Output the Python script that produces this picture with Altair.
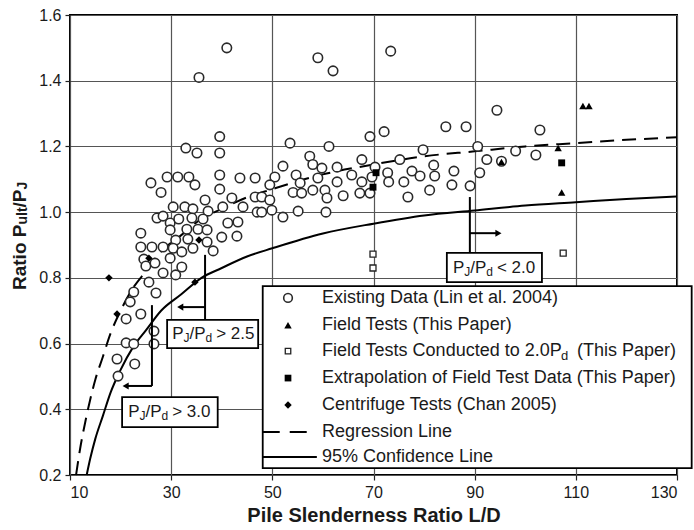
import altair as alt
import pandas as pd

FONT = "Liberation Sans"
TXT = "#1a1a1a"

# ---------------- data ----------------
existing_ld = [41.0, 35.5, 59.0, 62.0, 73.4, 94.4, 84.3, 88.3, 102.9, 69.3, 72.1, 39.6, 53.5, 32.9,
               35.1, 39.6, 61.2, 90.6, 79.8, 98.1, 102.1, 57.4, 58.0, 59.8, 62.8, 67.7, 75.2, 92.4,
               52.1, 70.3, 81.9, 72.8, 77.6, 85.9, 91.0, 82.1, 79.2, 65.7, 69.7, 59.0, 54.7, 50.5,
               46.6, 43.6, 39.6, 33.5, 31.3, 29.2, 26.0, 28.0, 34.7, 49.5, 55.5, 62.8, 67.7, 73.0,
               76.0, 85.5, 89.1, 39.6, 58.0, 60.4, 54.1, 55.8, 64.0, 67.3, 69.3, 81.1, 76.8, 60.8,
               42.0, 46.6, 47.9, 49.5, 36.7, 30.4, 32.7, 34.3, 37.3, 40.2, 44.2, 47.0, 47.9, 49.9,
               55.1, 60.6, 52.1, 27.2, 28.4, 29.8, 31.5, 34.1, 36.3, 41.2, 43.2, 29.8, 33.1, 35.3,
               37.1, 40.0, 43.0, 24.0, 24.0, 26.2, 28.4, 30.9, 33.3, 34.3, 37.1, 38.3, 30.4, 32.1,
               24.6, 29.8, 25.0, 26.8, 28.4, 30.9, 32.1, 25.6, 27.0, 22.6, 21.9, 21.1, 24.0, 21.1,
               22.6, 26.6, 26.6, 19.3, 22.8, 19.5, 95.3]
existing_ratio = [1.50, 1.41, 1.47, 1.43, 1.49, 1.31, 1.26, 1.26, 1.25, 1.23, 1.245, 1.23, 1.21, 1.195,
                  1.18, 1.18, 1.20, 1.20, 1.19, 1.186, 1.174, 1.17, 1.145, 1.134, 1.137, 1.16, 1.16, 1.16,
                  1.14, 1.137, 1.143, 1.12, 1.125, 1.125, 1.12, 1.11, 1.11, 1.113, 1.107, 1.104, 1.113, 1.107,
                  1.104, 1.104, 1.113, 1.107, 1.107, 1.107, 1.089, 1.06, 1.083, 1.083, 1.089, 1.092, 1.092, 1.092,
                  1.092, 1.083, 1.08, 1.07, 1.067, 1.067, 1.06, 1.058, 1.05, 1.058, 1.058, 1.067, 1.046, 1.043,
                  1.043, 1.046, 1.046, 1.037, 1.037, 1.016, 1.016, 1.01, 1.003, 1.016, 1.016, 1.0, 1.0, 1.006,
                  1.003, 1.0, 0.985, 0.982, 0.988, 0.967, 0.979, 0.982, 0.979, 0.967, 0.97, 0.946, 0.948, 0.948,
                  0.946, 0.924, 0.927, 0.936, 0.894, 0.894, 0.894, 0.915, 0.918, 0.89, 0.909, 0.882, 0.89, 0.879,
                  0.857, 0.86, 0.836, 0.845, 0.815, 0.809, 0.833, 0.787, 0.754, 0.757, 0.727, 0.675, 0.69, 0.602,
                  0.599, 0.638, 0.599, 0.553, 0.538, 0.501, 1.155]

field_ld = [95.3, 106.5, 107.2, 111.4, 112.6]
field_ratio = [1.153, 1.195, 1.06, 1.323, 1.323]

field2_ld = [69.9, 69.9, 107.5]
field2_ratio = [0.872, 0.830, 0.875]

extrap_ld = [70.5, 69.9, 107.2]
extrap_ratio = [1.12, 1.076, 1.15]

centr_ld = [17.7, 19.3, 25.6, 34.7, 35.5]
centr_ratio = [0.80, 0.69, 0.86, 0.787, 0.915]

reg_ld = [11.2, 12, 13, 14, 15, 16.5, 18, 20, 22.5, 25, 28, 32, 36, 40, 45, 50, 60, 70, 80, 90,
          100, 110, 120, 130]
reg_ratio = [0.20, 0.28, 0.36, 0.43, 0.49, 0.56, 0.63, 0.70, 0.77, 0.82, 0.88, 0.93, 0.98, 1.01,
             1.045, 1.07, 1.115, 1.145, 1.17, 1.185, 1.20, 1.21, 1.22, 1.228]

conf_ld = [13.3, 14, 15, 16.5, 18, 20, 22.5, 25, 28, 32, 36, 40, 45, 50, 60, 70, 80, 90, 100, 110,
           120, 130]
conf_ratio = [0.20, 0.25, 0.31, 0.38, 0.45, 0.52, 0.59, 0.64, 0.70, 0.75, 0.80, 0.83, 0.865, 0.89,
              0.935, 0.965, 0.99, 1.005, 1.02, 1.03, 1.04, 1.048]

x_ticks = [10, 30, 50, 70, 90, 110, 130]
y_ticks = [0.2, 0.4, 0.6, 0.8, 1.0, 1.2, 1.4, 1.6]

# annotation boxes (P_J/P_d limits)
box_x1 = [84.5, 29.2, 20.3]
box_x2 = [103.3, 47.2, 39.2]
box_y1 = [0.876, 0.672, 0.437]
box_y2 = [0.787, 0.586, 0.346]
box_tx = [85.7, 30.2, 21.5]
box_ty = [0.831, 0.629, 0.392]
box_tail = ["< 2.0", "> 2.5", "> 3.0"]

seg_x1 = [89.05, 89.05, 36.7, 36.7, 26.2, 26.2]
seg_y1 = [1.046, 0.936, 0.870, 0.711, 0.717, 0.471]
seg_x2 = [89.05, 94.7, 36.7, 31.8, 26.2, 21.0]
seg_y2 = [0.876, 0.936, 0.672, 0.711, 0.471, 0.471]

head_x = [94.7, 31.8, 21.0]
head_y = [0.936, 0.711, 0.471]
head_dir = ["right", "left", "left"]

# legend
leg_box = dict(x=48.1, x2=132.9, y=0.775, y2=0.221)
leg_rows = [0.739, 0.656, 0.577, 0.495, 0.413, 0.331, 0.255]
leg_sym_x = 53.1
leg_txt_x = 59.8
leg_labels = ["Existing Data (Lin et al. 2004)", "Field Tests (This Paper)",
              "Field Tests Conducted to 2.0P", "Extrapolation of Field Test Data (This Paper)",
              "Centrifuge Tests (Chan 2005)", "Regression Line", "95% Confidence Line"]

ytitle_x = 0.12
ytitle_y = 0.763

# ---------------- helpers ----------------
XS = alt.Scale(domain=[10, 130], nice=False, zero=False)
YS = alt.Scale(domain=[0.2, 1.6], nice=False, zero=False)

axis_common = dict(labelFont=FONT, labelFontSize=16, labelColor=TXT, tickColor="#222",
                   tickSize=5, tickWidth=1.2, grid=True, gridColor="#555", gridWidth=1.2,
                   domain=False, labelPadding=4)
X_AXIS = alt.Axis(values=x_ticks, format="d", title="Pile Slenderness Ratio L/D",
                  titleFont=FONT, titleFontSize=20, titleFontWeight="bold", titleColor=TXT,
                  titlePadding=5, **axis_common)
Y_AXIS = alt.Axis(values=y_ticks, format=".1f", title=None, **axis_common)


def X(f="x"):
    return alt.X(f"{f}:Q", scale=XS, axis=X_AXIS)


def Y(f="y"):
    return alt.Y(f"{f}:Q", scale=YS, axis=Y_AXIS)


def df(x, y):
    return pd.DataFrame({"x": x, "y": y})


layers = []

layers.append(alt.Chart(df(conf_ld, conf_ratio)).mark_line(
    color="black", strokeWidth=2, interpolate="monotone").encode(x=X(), y=Y()))

layers.append(alt.Chart(df(reg_ld, reg_ratio)).mark_line(
    color="black", strokeWidth=2, strokeDash=[14, 8], interpolate="monotone"
).encode(x=X(), y=Y()))

layers.append(alt.Chart(df(existing_ld, existing_ratio)).mark_point(
    shape="circle", filled=True, fill="white", stroke="#2a2a2a", strokeWidth=1.6, size=90, opacity=1
).encode(x=X(), y=Y()))

layers.append(alt.Chart(df(field2_ld, field2_ratio)).mark_point(
    shape="square", filled=True, fill="white", stroke="#222", strokeWidth=1.3, size=36, opacity=1
).encode(x=X(), y=Y()))

layers.append(alt.Chart(df(extrap_ld, extrap_ratio)).mark_point(
    shape="square", filled=True, color="black", size=48, opacity=1
).encode(x=X(), y=Y()))

layers.append(alt.Chart(df(field_ld, field_ratio)).mark_point(
    shape="triangle-up", filled=True, color="black", size=55, opacity=1
).encode(x=X(), y=Y()))

layers.append(alt.Chart(df(centr_ld, centr_ratio)).mark_point(
    shape="diamond", filled=True, color="black", size=55, opacity=1
).encode(x=X(), y=Y()))

# annotation segments
seg_df = pd.DataFrame({"x": seg_x1, "y": seg_y1, "x2": seg_x2, "y2": seg_y2})
layers.append(alt.Chart(seg_df).mark_rule(color="black", strokeWidth=2).encode(
    x=X(), y=Y(), x2="x2:Q", y2="y2:Q"))

head_df = pd.DataFrame({"x": head_x, "y": head_y, "d": head_dir})
layers.append(alt.Chart(head_df).mark_point(filled=True, color="black", size=50, opacity=1).encode(
    x=X(), y=Y(),
    shape=alt.Shape("d:N", scale=alt.Scale(domain=["left", "right"],
                                           range=["triangle-left", "triangle-right"]), legend=None)))

# annotation boxes
box_df = pd.DataFrame({"x": box_x1, "x2": box_x2, "y": box_y1, "y2": box_y2,
                       "tx": box_tx, "ty": box_ty, "tail": box_tail})
layers.append(alt.Chart(box_df).mark_rect(fill="white", stroke="black", strokeWidth=1.8).encode(
    x=X(), x2="x2:Q", y=Y(), y2="y2:Q"))

box_text = alt.Chart(box_df).encode(x=X("tx"), y=Y("ty"))
tstyle = dict(font=FONT, color=TXT, align="left", baseline="middle")
layers.append(box_text.mark_text(text="P", fontSize=17, dx=0, **tstyle))
layers.append(box_text.mark_text(text="J", fontSize=12, dx=11.3, dy=4, **tstyle))
layers.append(box_text.mark_text(text="/P", fontSize=17, dx=17.3, **tstyle))
layers.append(box_text.mark_text(text="d", fontSize=12, dx=33.4, dy=4, **tstyle))
layers.append(box_text.mark_text(fontSize=17, dx=44.0, **tstyle).encode(text="tail:N"))

# legend
leg_rect = pd.DataFrame([leg_box])
layers.append(alt.Chart(leg_rect).mark_rect(fill="white", stroke="black", strokeWidth=1.8).encode(
    x=X(), x2="x2:Q", y=Y(), y2="y2:Q"))


def sym(i):
    return alt.Chart(pd.DataFrame({"x": [leg_sym_x], "y": [leg_rows[i]]})).encode(x=X(), y=Y())


layers.append(sym(0).mark_point(shape="circle", filled=True, fill="white", stroke="#2a2a2a",
                                strokeWidth=1.6, size=75, opacity=1))
layers.append(sym(1).mark_point(shape="triangle-up", filled=True, color="black", size=55, opacity=1))
layers.append(sym(2).mark_point(shape="square", filled=True, fill="white", stroke="#222",
                                strokeWidth=1.3, size=30, opacity=1))
layers.append(sym(3).mark_point(shape="square", filled=True, color="black", size=45, opacity=1))
layers.append(sym(4).mark_point(shape="diamond", filled=True, color="black", size=55, opacity=1))

dash_df = pd.DataFrame({"x": [48.1], "x2": [57.0], "y": [leg_rows[5]]})
solid_df = pd.DataFrame({"x": [48.1], "x2": [58.8], "y": [leg_rows[6]]})
layers.append(alt.Chart(dash_df).mark_rule(color="black", strokeWidth=2, strokeDash=[17, 10]).encode(
    x=X(), x2="x2:Q", y=Y()))
layers.append(alt.Chart(solid_df).mark_rule(color="black", strokeWidth=2).encode(
    x=X(), x2="x2:Q", y=Y()))

leg_txt = pd.DataFrame({"x": [leg_txt_x] * len(leg_labels), "y": leg_rows, "t": leg_labels})
lstyle = dict(font=FONT, color=TXT, align="left", baseline="middle")
layers.append(alt.Chart(leg_txt).mark_text(fontSize=18, **lstyle).encode(x=X(), y=Y(), text="t:N"))
row3 = alt.Chart(leg_txt.iloc[[2]]).encode(x=X(), y=Y())
layers.append(row3.mark_text(text="d", fontSize=13, dx=239, dy=5, **lstyle))
layers.append(row3.mark_text(text="(This Paper)", fontSize=18, dx=255, **lstyle))

# y-axis title with subscripts
yt = alt.Chart(pd.DataFrame({"x": [ytitle_x], "y": [ytitle_y]})).encode(x=X(), y=Y())
ystyle = dict(font=FONT, color=TXT, align="left", baseline="middle", angle=270, fontWeight="bold")
layers.append(yt.mark_text(text="Ratio P", fontSize=19, dx=0, **ystyle))
layers.append(yt.mark_text(text="ult", fontSize=14, dx=65.5, dy=3, **ystyle))
layers.append(yt.mark_text(text="/P", fontSize=19, dx=82.6, **ystyle))
layers.append(yt.mark_text(text="J", fontSize=14, dx=100.6, dy=3, **ystyle))

chart = alt.layer(*layers).properties(
    width=607, height=460,
    padding={"left": 70, "top": 15, "right": 17, "bottom": 55},
    autosize=alt.AutoSizeParams(type="none"),
    background="white",
).configure_view(stroke="black", strokeWidth=2)

chart.save("out.html", embed_options={"renderer": "svg", "actions": False})
